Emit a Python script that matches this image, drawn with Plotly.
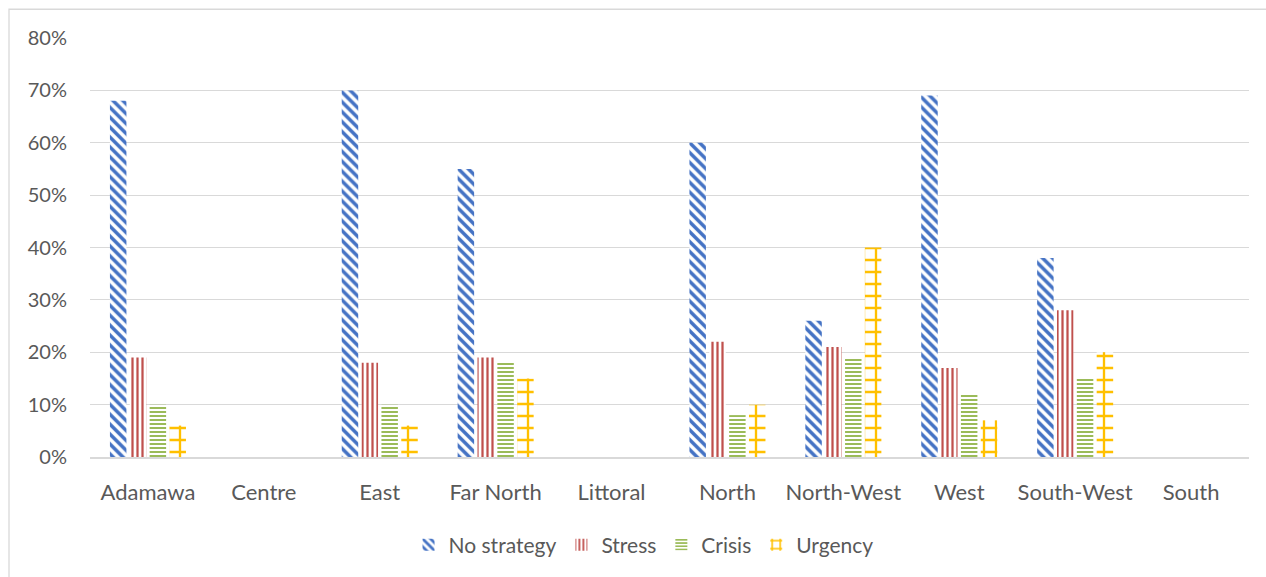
import plotly.graph_objects as go

regions = ["Adamawa", "Centre", "East", "Far North", "Littoral", "North",
           "North-West", "West", "South-West", "South"]
no_strategy = [0.68, None, 0.70, 0.55, None, 0.60, 0.26, 0.69, 0.38, None]
stress = [0.19, None, 0.18, 0.19, None, 0.22, 0.21, 0.17, 0.28, None]
crisis = [0.10, None, 0.10, 0.18, None, 0.08, 0.19, 0.12, 0.15, None]
urgency = [0.06, None, 0.06, 0.15, None, 0.10, 0.40, 0.07, 0.20, None]
y_ticks = [0, 0.1, 0.2, 0.3, 0.4, 0.5, 0.6, 0.7, 0.8]

series = [
    ("No strategy", no_strategy, "#4472C4", "\\", 7, 0.5),
    ("Stress", stress, "#C0504D", "|", 5, 0.45),
    ("Crisis", crisis, "#9BBB59", "-", 4, 0.5),
    ("Urgency", urgency, "#FFC000", "+", 12, 0.35),
]

fig = go.Figure()
for name, vals, col, shape, size, sol in series:
    fig.add_trace(go.Bar(
        name=name, x=regions, y=vals,
        marker=dict(color="white", line=dict(width=0),
                    pattern=dict(shape=shape, fgcolor=col, bgcolor="white", fgopacity=1,
                                 size=size, solidity=sol, fillmode="overlay")),
    ))

font = "Lato, 'Open Sans', sans-serif"
fig.update_layout(
    width=1266, height=577,
    margin=dict(l=90, r=17, t=38, b=116),
    paper_bgcolor="white", plot_bgcolor="white",
    barmode="group", bargap=0.315, bargroupgap=0.17,
    font=dict(family=font, size=21, color="#595959"),
    showlegend=True,
    legend=dict(orientation="h", x=0.4776, xanchor="center", y=-0.21, yanchor="middle",
                font=dict(size=21, color="#595959"), itemwidth=30, traceorder="normal"),
    xaxis=dict(showgrid=False, showline=True, linecolor="#D9D9D9", linewidth=1.5,
               ticks="", ticklabelstandoff=15, tickfont=dict(size=22, color="#595959")),
    yaxis=dict(range=[0, 0.8], tickvals=y_ticks, tickformat=".0%",
               showgrid=True, gridcolor="#D9D9D9", gridwidth=1.3,
               zeroline=False, showline=False, ticks="", ticklabelstandoff=22,
               tickfont=dict(size=20, color="#595959")),
    shapes=[dict(type="rect", xref="paper", yref="paper",
                 x0=-81/1159, x1=1.2, y0=-0.5, y1=1 + 29/423,
                 line=dict(color="#D9D9D9", width=1.3), fillcolor="rgba(0,0,0,0)",
                 layer="below")],
)

fig.write_html("out.html", config={"displayModeBar": False},
               post_script="document.body.style.margin='0';document.body.style.overflow='hidden';")
